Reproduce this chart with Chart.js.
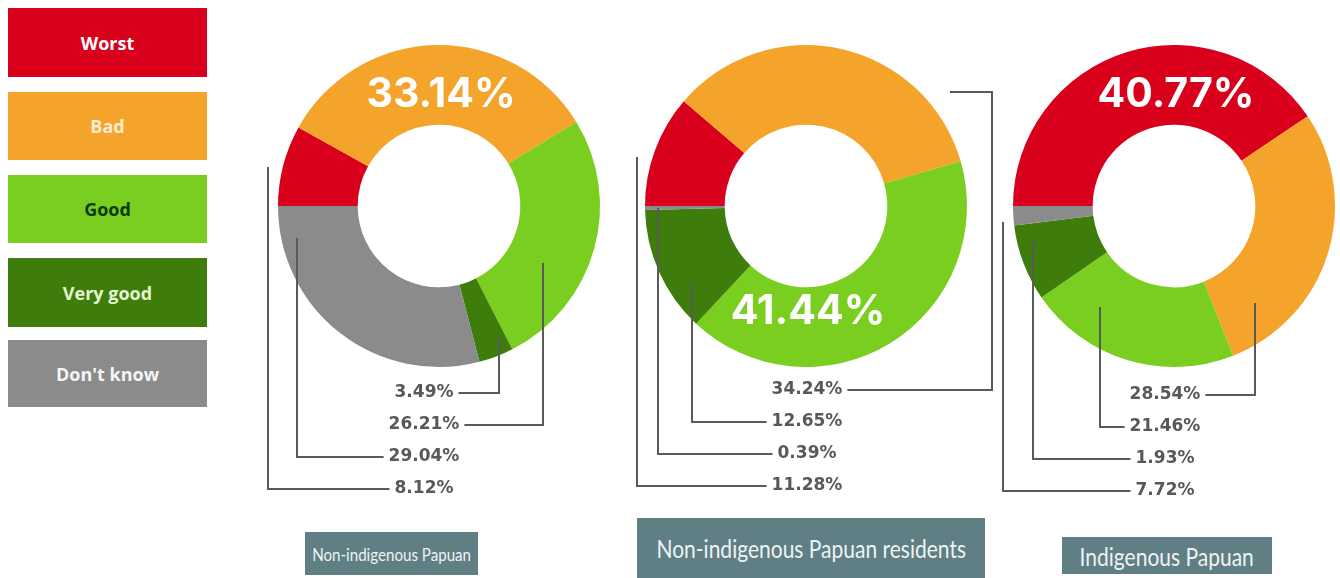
<!DOCTYPE html>
<html>
<head>
<meta charset="utf-8">
<script src="https://cdn.jsdelivr.net/npm/chart.js"></script>
<style>
  body { margin: 0; background: #fff; width: 1340px; height: 578px; position: relative; overflow: hidden; }
  .leg { position: absolute; left: 8px; width: 199px; display: flex; align-items: center; justify-content: center;
         font: bold 18px "Open Sans", sans-serif; }
  .grp { position: absolute; background: #5f7f84; color: #eef3f4; display: flex; align-items: center; justify-content: center;
         font-family: Lato, sans-serif; }
  .grp span { display: inline-block; transform: scaleX(0.84); white-space: nowrap; }
  canvas { position: absolute; top: 0; }
</style>
</head>
<body>
<div id="legend"></div>
<div id="groups"></div>
<canvas id="c0"></canvas>
<canvas id="c1"></canvas>
<canvas id="c2"></canvas>
<script>
// categorias e valores (%)
const categorias = ['Worst', 'Bad', 'Good', 'Very good', "Don't know"];
const grupos = ['Non-indigenous Papuan', 'Non-indigenous Papuan residents', 'Indigenous Papuan'];
const naoIndigenas = [8.12, 33.14, 26.21, 3.49, 29.04];
const residentes = [11.28, 34.24, 41.44, 12.65, 0.39];
const indigenas = [40.77, 28.54, 21.46, 7.72, 1.93];

const cores = ['#d8001b', '#f4a42a', '#7ace20', '#3e7d0c', '#8b8b8b'];
const coresTexto = ['#ffffff', '#fdebd0', '#0c3a0c', '#e2f6cc', '#f5f5f5'];

// legenda
const legTops = [8, 92, 175, 258, 340];
const legH = [69, 68, 68, 69, 67];
const legend = document.getElementById('legend');
categorias.forEach((c, i) => {
  const d = document.createElement('div');
  d.className = 'leg';
  d.style.top = legTops[i] + 'px';
  d.style.height = legH[i] + 'px';
  d.style.background = cores[i];
  d.style.color = coresTexto[i];
  d.textContent = c;
  legend.appendChild(d);
});

// caixas dos grupos: left, top, width, height, tamanho da fonte
const grpBox = [[305, 532, 173, 43, 18], [637, 518, 348, 60, 25], [1062, 537, 210, 37, 25]];
const groups = document.getElementById('groups');
grupos.forEach((g, i) => {
  const d = document.createElement('div');
  d.className = 'grp';
  d.style.left = grpBox[i][0] + 'px';
  d.style.top = grpBox[i][1] + 'px';
  d.style.width = grpBox[i][2] + 'px';
  d.style.height = grpBox[i][3] + 'px';
  d.style.fontSize = grpBox[i][4] + 'px';
  const s = document.createElement('span');
  s.textContent = g;
  d.appendChild(s);
  groups.appendChild(d);
});

// layout de cada rosca: centro, raio, canvas, rótulos
const R = 161;
const layouts = [
  {
    dados: naoIndigenas, cx: 439, cy: 206, left: 250, width: 380,
    destaque: { idx: 1, dy: -111 },
    rotX: -15, rowY: 187,
    rotulos: [
      { idx: 3, pts: [[60, 131]] },
      { idx: 2, pts: [[104, 57]] },
      { idx: 4, pts: [[-142, 32]] },
      { idx: 0, pts: [[-171, -39]] }
    ]
  },
  {
    dados: residentes, cx: 806, cy: 206, left: 620, width: 390,
    destaque: { idx: 2, dy: 106 },
    rotX: 1, rowY: 184,
    rotulos: [
      { idx: 1, pts: [[144, -114], [186, -114]] },
      { idx: 3, pts: [[-114, 77]] },
      { idx: 4, pts: [[-148, 2]] },
      { idx: 0, pts: [[-169, -49]] }
    ]
  },
  {
    dados: indigenas, cx: 1174, cy: 206, left: 990, width: 350,
    destaque: { idx: 0, dy: -111 },
    rotX: -9, rowY: 189,
    rotulos: [
      { idx: 1, pts: [[81, 97]] },
      { idx: 2, pts: [[-74, 101]] },
      { idx: 4, pts: [[-141, 36]] },
      { idx: 3, pts: [[-171, 16]] }
    ]
  }
];

const fmt = v => v.toFixed(2) + '%';

const rotulosPlugin = {
  id: 'rotulos',
  afterDraw(chart, args, opts) {
    const lay = opts.lay;
    const ctx = chart.ctx;
    const arc = chart.getDatasetMeta(0).data[0];
    const cx = arc.x, cy = arc.y;
    ctx.save();
    // valor em destaque
    ctx.fillStyle = '#ffffff';
    ctx.font = 'bold 41px Inter, sans-serif';
    ctx.textAlign = 'center';
    ctx.textBaseline = 'middle';
    ctx.fillText(fmt(lay.dados[lay.destaque.idx]), cx + 2, cy + lay.destaque.dy);
    // rótulos com linhas
    ctx.font = 'bold 17px "DejaVu Sans", sans-serif';
    ctx.fillStyle = '#585858';
    ctx.strokeStyle = '#5a5a5a';
    ctx.lineWidth = 2;
    lay.rotulos.forEach((r, k) => {
      const txt = fmt(lay.dados[r.idx]);
      const ty = cy + lay.rowY + k * 32;
      const tx = cx + lay.rotX;
      ctx.fillText(txt, tx, ty);
      const w = ctx.measureText(txt).width;
      ctx.beginPath();
      r.pts.forEach((p, j) => {
        if (j === 0) ctx.moveTo(cx + p[0], cy + p[1]);
        else ctx.lineTo(cx + p[0], cy + p[1]);
      });
      const last = r.pts[r.pts.length - 1];
      ctx.lineTo(cx + last[0], ty);
      const endX = cx + last[0] > tx ? tx + w / 2 + 5 : tx - w / 2 - 5;
      ctx.lineTo(endX, ty);
      ctx.stroke();
    });
    ctx.restore();
  }
};

layouts.forEach((lay, i) => {
  const cv = document.getElementById('c' + i);
  cv.width = lay.width;
  cv.height = 578;
  cv.style.left = lay.left + 'px';
  const padL = lay.cx - R - lay.left;
  const padR = lay.left + lay.width - (lay.cx + R);
  new Chart(cv, {
    type: 'doughnut',
    data: {
      labels: categorias,
      datasets: [{
        data: lay.dados,
        backgroundColor: cores,
        borderWidth: 0,
        hoverOffset: 0,
        offset: 0
      }]
    },
    options: {
      responsive: false,
      animation: false,
      rotation: -90,
      cutout: '50.5%',
      layout: { padding: { left: padL, right: padR, top: lay.cy - R, bottom: 578 - (lay.cy + R) } },
      events: [],
      plugins: {
        legend: { display: false },
        tooltip: { enabled: false },
        rotulos: { lay: lay }
      }
    },
    plugins: [rotulosPlugin]
  });
});
</script>
</body>
</html>
